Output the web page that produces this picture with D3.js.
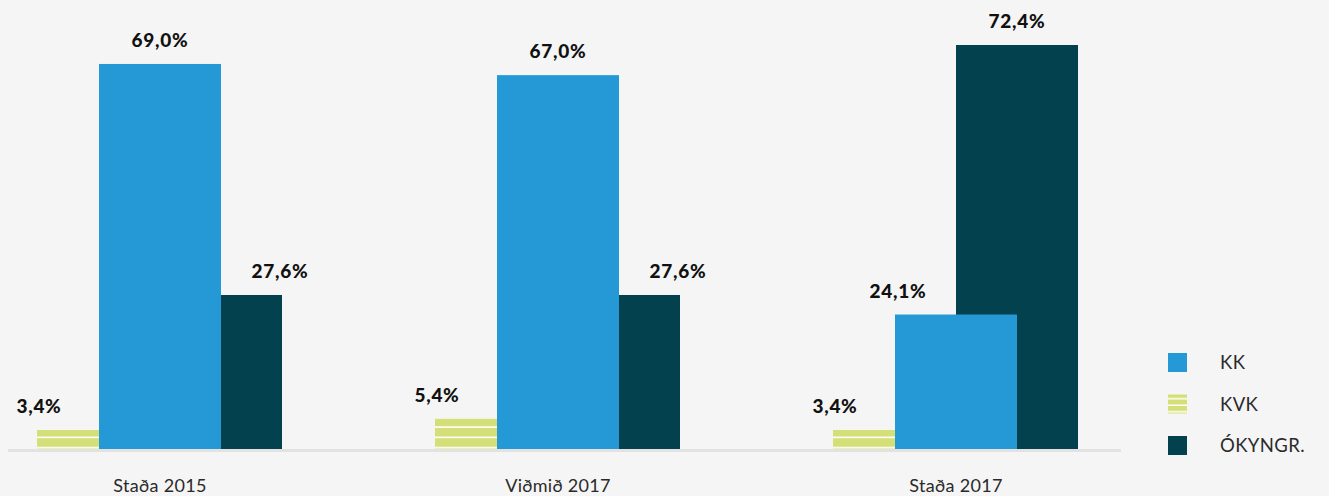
<!DOCTYPE html>
<meta charset="utf-8">
<head>
    <title>Kynjahlutföll</title>
</head>

<style>
    body {
        margin: 0;
        background-color: #f5f5f5;
        font-family: Lato, Arial;
    }

    .val {
        font-size: 19px;
        font-weight: 900;
        fill: #111;
        letter-spacing: 0.7px;
    }

    .cat {
        font-size: 18px;
        fill: #2a2a2a;
        letter-spacing: 0.3px;
    }

    .leg {
        font-size: 18.5px;
        fill: #2a2a2a;
        letter-spacing: 0.4px;
    }
</style>

<body>
    <svg width="1329" height="496"></svg>
</body>

<script src="https://d3js.org/d3.v7.min.js"></script>

<script>
    var categories = ["Staða 2015", "Viðmið 2017", "Staða 2017"];
    var seriesNames = ["KK", "KVK", "ÓKYNGR."];
    var kk = [69.0, 67.0, 24.1];
    var kvk = [3.4, 5.4, 3.4];
    var okyngr = [27.6, 27.6, 72.4];

    var colours = {
        "KK": "#2499d6",
        "KVK": "url(#stripes)",
        "ÓKYNGR.": "#03414e"
    };

    var svg = d3.select("svg"),
        baseY = 449,
        barW = 122;

    // bars overlap: each series shifted half a bar width
    var seriesOffset = { "KVK": -123, "KK": -61, "ÓKYNGR.": 0 };

    var defs = svg.append("defs");

    // striped fill for KVK
    var pat = defs.append("pattern")
        .attr("id", "stripes")
        .attr("patternUnits", "userSpaceOnUse")
        .attr("width", 10)
        .attr("height", 10.3);
    pat.append("rect").attr("width", 10).attr("height", 10.3).attr("fill", "#d5df78");
    pat.append("rect").attr("y", 4).attr("width", 10).attr("height", 1.6).attr("fill", "#ffffff");

    var lp = defs.append("pattern")
        .attr("id", "legstripes")
        .attr("patternUnits", "userSpaceOnUse")
        .attr("width", 19)
        .attr("height", 6.5)
        .attr("y", 395);
    lp.append("rect").attr("width", 19).attr("height", 6.5).attr("fill", "#d5df78");
    lp.append("rect").attr("y", 5).attr("width", 19).attr("height", 1.5).attr("fill", "#ffffff");

    var x = d3.scalePoint()
        .domain(categories)
        .range([160, 956]);

    var y = d3.scaleLinear()
        .domain([0, 72.4])
        .range([baseY, 45]);

    // draw order: KVK, ÓKYNGR., then KK on top
    var rows = [];
    categories.forEach(function (c, i) {
        rows.push({ cat: c, name: "KVK", value: kvk[i], i: i });
        rows.push({ cat: c, name: "ÓKYNGR.", value: okyngr[i], i: i });
        rows.push({ cat: c, name: "KK", value: kk[i], i: i });
    });

    // baseline
    svg.append("rect")
        .attr("x", 8)
        .attr("y", baseY)
        .attr("width", 1113)
        .attr("height", 3)
        .attr("fill", "#e2e2e2");

    svg.selectAll(".bar")
        .data(rows)
        .enter()
        .append("rect")
        .attr("class", "bar")
        .attr("x", d => x(d.cat) + seriesOffset[d.name])
        .attr("y", d => y(d.value))
        .attr("width", barW)
        .attr("height", d => baseY - y(d.value))
        .attr("fill", d => colours[d.name]);

    // label placement: tallest bar of group centred, others at their edge
    function labelX(d) {
        var x0 = x(d.cat) + seriesOffset[d.name];
        var max = Math.max(kk[d.i], kvk[d.i], okyngr[d.i]);
        if (d.value == max) return x0 + barW / 2;
        if (d.name == "KVK") return x0 + 2;
        if (d.name == "KK") return x0 + 3;
        return x0 + barW - 2;
    }

    svg.selectAll(".val")
        .data(rows)
        .enter()
        .append("text")
        .attr("class", "val")
        .attr("text-anchor", "middle")
        .attr("x", labelX)
        .attr("y", d => y(d.value) - 17)
        .text(d => d3.format(".1f")(d.value).replace(".", ",") + "%");

    svg.selectAll(".cat")
        .data(categories)
        .enter()
        .append("text")
        .attr("class", "cat")
        .attr("text-anchor", "middle")
        .attr("x", d => x(d))
        .attr("y", 492)
        .text(d => d);

    var leg = svg.selectAll(".legItem")
        .data(seriesNames)
        .enter()
        .append("g")
        .attr("class", "legItem")
        .attr("transform", (d, i) => "translate(1168," + (353 + i * 41.5) + ")");

    leg.append("rect")
        .attr("width", 19)
        .attr("height", 19)
        .attr("fill", d => d == "KVK" ? "url(#legstripes)" : colours[d]);

    leg.append("text")
        .attr("class", "leg")
        .attr("x", 52)
        .attr("y", 16)
        .text(d => d);
</script>
